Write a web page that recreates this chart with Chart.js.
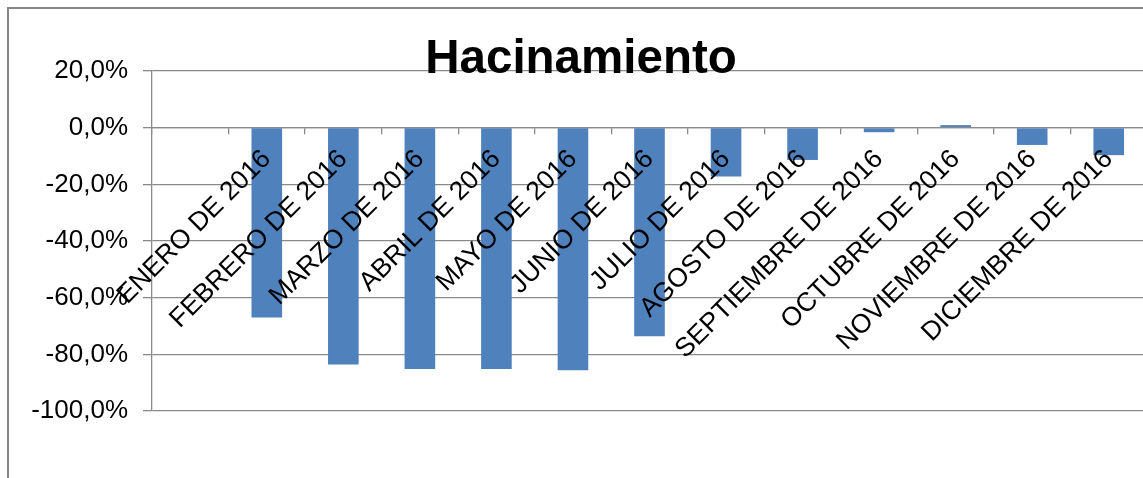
<!DOCTYPE html>
<html>
<head>
<meta charset="utf-8">
<title>Hacinamiento</title>
<script src="https://cdn.jsdelivr.net/npm/chart.js@4/dist/chart.umd.min.js"></script>
<style>
    html, body { margin: 0; padding: 0; background: #fff; overflow: hidden; }
    #frame {
        position: absolute; left: 7px; top: 7px;
        width: 1200px; height: 600px;
        border: 2px solid #878787;
    }
    #wrap { position: absolute; left: 0; top: 0; width: 1162px; height: 478px; }
</style>
</head>
<body>
<div id="frame"></div>
<div id="wrap"><canvas id="hacinamientoChart" width="1162" height="478"></canvas></div>
<script>
// Chart data (first category is an empty slot, as in the original sheet).
const categories = [
    '',
    'ENERO DE 2016', 'FEBRERO DE 2016', 'MARZO DE 2016', 'ABRIL DE 2016',
    'MAYO DE 2016', 'JUNIO DE 2016', 'JULIO DE 2016', 'AGOSTO DE 2016',
    'SEPTIEMBRE DE 2016', 'OCTUBRE DE 2016', 'NOVIEMBRE DE 2016', 'DICIEMBRE DE 2016'
];
const hacinamiento = [
    null,
    -67.0, -83.6, -85.2, -85.2,
    -85.6, -73.6, -17.2, -11.4,
    -1.6, 0.9, -6.1, -9.7
];
const yMin = -100;
const yMax = 20;
const yStep = 20;

const FONT = '"Liberation Sans", Arial, sans-serif';
const GRID = '#8a8a8a';

// Format like Excel: 20,0%
const fmtPct = (v) => v.toFixed(1).replace('.', ',') + '%';

const ctx = document.getElementById('hacinamientoChart').getContext('2d');
const chart = new Chart(ctx, {
    type: 'bar',
    data: {
        labels: categories,
        datasets: [{
            label: 'Hacinamiento',
            data: hacinamiento,
            backgroundColor: '#4F81BD',
            borderWidth: 0,
            categoryPercentage: 1,
            barPercentage: 0.4
        }]
    },
    options: {
        responsive: false,
        animation: false,
        devicePixelRatio: 1,
        layout: {
            // bottom padding keeps the plot area clear of the category axis,
            // which sits on the 0 line
            padding: { left: 15, right: 15, top: 0, bottom: 67 }
        },
        plugins: {
            legend: { display: false },
            tooltip: { enabled: false },
            title: {
                display: true,
                text: 'Hacinamiento',
                color: '#000',
                font: { family: FONT, size: 47.5, weight: 'bold', lineHeight: 1.2 },
                padding: { top: 31, bottom: -17 }
            }
        },
        scales: {
            x: {
                position: { y: 0 },
                grid: {
                    offset: true,
                    drawOnChartArea: false,
                    drawTicks: true,
                    tickLength: 6,
                    color: GRID,
                    lineWidth: 1.3
                },
                border: { color: GRID, width: 1.3 },
                ticks: {
                    z: 1,   // labels over the bars
                    autoSkip: false,
                    minRotation: 45,
                    maxRotation: 45,
                    padding: 10,
                    color: '#000',
                    font: { family: FONT, size: 26.5 }
                },
                afterFit: (scale) => {
                    scale.paddingLeft = 0;
                    scale.paddingRight = 0;
                }
            },
            y: {
                min: yMin,
                max: yMax,
                grid: {
                    color: GRID,
                    lineWidth: 1.3,
                    tickLength: 9
                },
                border: { color: GRID, width: 1.3 },
                ticks: {
                    stepSize: yStep,
                    padding: 15,
                    color: '#000',
                    font: { family: FONT, size: 26 },
                    callback: (v) => fmtPct(v)
                },
                afterFit: (scale) => {
                    scale.width = 137;
                }
            }
        }
    }
});
</script>
</body>
</html>
